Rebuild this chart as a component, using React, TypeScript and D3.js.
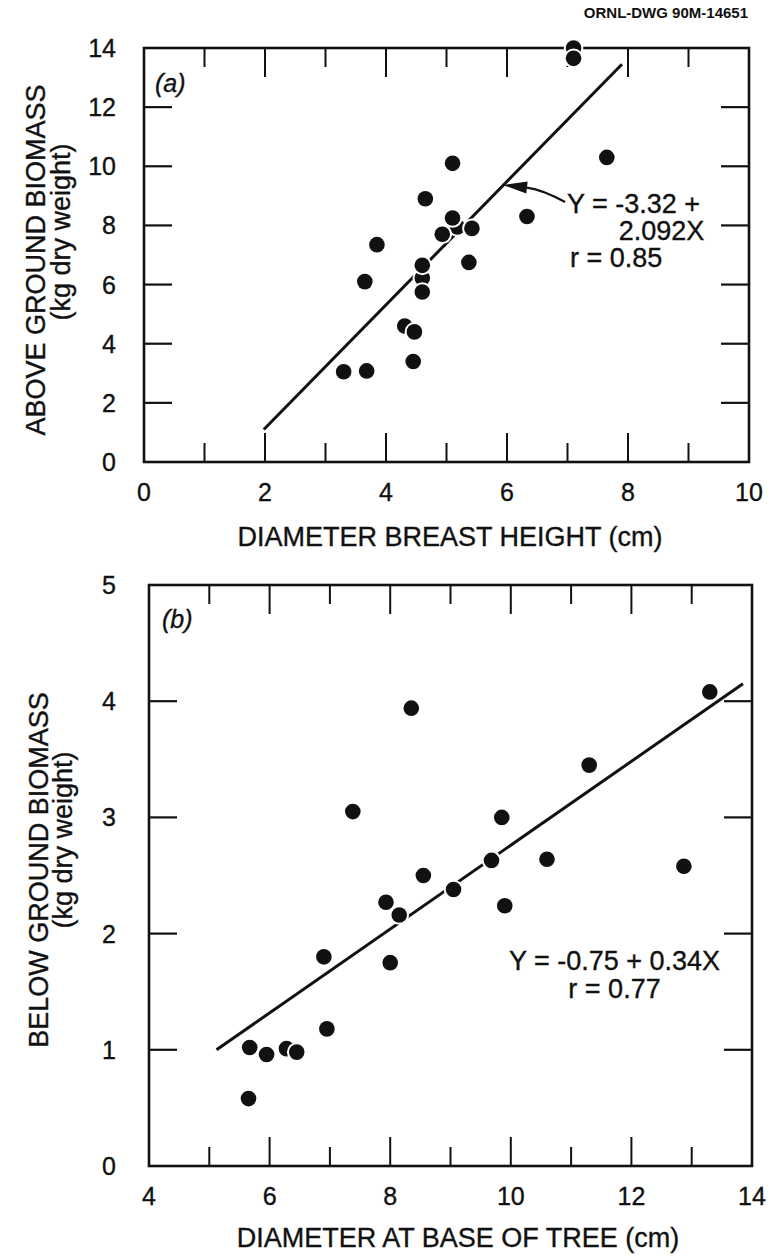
import React from "react";
import * as d3 from "d3";

// ---------- Panel (a): above-ground biomass vs DBH ----------
const aDbh = [7.1, 7.1, 7.65, 5.1, 4.65, 6.33, 5.18, 5.1, 5.42, 4.93, 3.85, 3.65, 5.37, 4.6, 4.6, 4.6, 4.31, 4.47, 4.45, 3.3, 3.68];
const aBiomass = [14.0, 13.65, 10.3, 10.1, 8.9, 8.3, 7.95, 8.25, 7.9, 7.7, 7.35, 6.1, 6.75, 6.22, 6.65, 5.75, 4.6, 4.4, 3.4, 3.05, 3.08];
const aFitX = [1.98, 7.9];
const aFitY = [1.1, 13.45];
const aXTicks = [0, 2, 4, 6, 8, 10];
const aYTicks = [0, 2, 4, 6, 8, 10, 12, 14];

// ---------- Panel (b): below-ground biomass vs base diameter ----------
const bBase = [5.65, 5.67, 5.95, 6.28, 6.45, 6.9, 6.95, 7.38, 7.93, 8.0, 8.15, 8.35, 8.55, 9.05, 9.68, 9.85, 9.9, 10.6, 11.3, 12.87, 13.3];
const bBiomass = [0.58, 1.02, 0.96, 1.01, 0.98, 1.8, 1.18, 3.05, 2.27, 1.75, 2.16, 3.94, 2.5, 2.38, 2.63, 3.0, 2.24, 2.64, 3.45, 2.58, 4.08];
const bFitX = [5.12, 13.85];
const bFitY = [1.0, 4.15];
const bXTicks = [4, 6, 8, 10, 12, 14];
const bYTicks = [0, 1, 2, 3, 4, 5];

const FONT = "'Liberation Sans', Arial, Helvetica, sans-serif";
const INK = "#111";
const TXT = { fill: INK, stroke: INK, strokeWidth: 0.35 } as const;

type Scale = d3.ScaleLinear<number, number>;

function Frame({ x, y, majorX, minorX, yTickVals }: { x: Scale; y: Scale; majorX: number[]; minorX: number[]; yTickVals: number[] }) {
  const [x0, x1] = x.range();
  const [y0, y1] = y.range();
  const out: React.ReactNode[] = [];
  const xt = [...majorX.map((v) => ({ v, len: 29 })), ...minorX.map((v) => ({ v, len: 19 }))];
  xt.forEach(({ v, len }, i) => {
    const px = x(v);
    out.push(<line key={"xb" + i} x1={px} x2={px} y1={y0} y2={y0 - len} stroke={INK} strokeWidth={2} />);
    out.push(<line key={"xt" + i} x1={px} x2={px} y1={y1} y2={y1 + len} stroke={INK} strokeWidth={2} />);
  });
  yTickVals.forEach((v, i) => {
    const py = y(v);
    out.push(<line key={"yl" + i} x1={x0} x2={x0 + 28} y1={py} y2={py} stroke={INK} strokeWidth={2.2} />);
    out.push(<line key={"yr" + i} x1={x1 - 28} x2={x1} y1={py} y2={py} stroke={INK} strokeWidth={2.2} />);
  });
  return (
    <g>
      <rect x={x0} y={y1} width={x1 - x0} height={y0 - y1} fill="none" stroke={INK} strokeWidth={2.6} />
      {out}
    </g>
  );
}

function Dots({ x, y, xs, ys }: { x: Scale; y: Scale; xs: number[]; ys: number[] }) {
  return (
    <g>
      {xs.map((v, i) => (
        <g key={i}>
          <circle cx={x(v)} cy={y(ys[i])} r={9.8} fill="#fff" />
          <circle cx={x(v)} cy={y(ys[i])} r={7.8} fill={INK} />
        </g>
      ))}
    </g>
  );
}

export default function App() {
  const ax = d3.scaleLinear().domain([0, 10]).range([144, 749]);
  const ay = d3.scaleLinear().domain([0, 14]).range([462, 48]);
  const bx = d3.scaleLinear().domain([4, 14]).range([149, 752]);
  const by = d3.scaleLinear().domain([0, 5]).range([1166, 585]);

  const lineGen = (x: Scale, y: Scale, xs: number[], ys: number[]) =>
    d3.line<number>().x((d) => x(d)).y((_, i) => y(ys[i]))(xs) || "";

  // arrow annotation in panel (a), defined in data units
  const tip = [ax(5.93), ay(9.37)];
  const base = [ax(6.33), ay(9.28)];
  const tail = [ax(6.96), ay(8.79)];
  const ctrl = [ax(6.6), ay(9.2)];
  const dx = tip[0] - base[0];
  const dy = tip[1] - base[1];
  const L = Math.hypot(dx, dy);
  const nx = -dy / L;
  const ny = dx / L;
  const hw = 6;
  const head = `M${tip[0]},${tip[1]} L${base[0] + nx * hw},${base[1] + ny * hw} L${base[0] - nx * hw},${base[1] - ny * hw} Z`;

  const minorA = d3.range(1, 10, 2);
  const majorA = aXTicks.filter((v) => v > 0 && v < 10);
  const minorB = d3.range(5, 14, 2);
  const majorB = bXTicks.filter((v) => v > 4 && v < 14);

  return (
    <div style={{ position: "absolute", left: 0, top: 0 }}>
      <svg width={781} height={1256} style={{ display: "block", background: "#fff" }} fontFamily={FONT}>
        <text x={748} y={18} textAnchor="end" fontSize={15} fontWeight="bold" fill={INK}>ORNL-DWG 90M-14651</text>

        {/* Panel (a) */}
        <Frame x={ax} y={ay} majorX={majorA} minorX={minorA} yTickVals={aYTicks.filter((v) => v > 0 && v < 14)} />
        <path d={lineGen(ax, ay, aFitX, aFitY)} stroke={INK} strokeWidth={3} fill="none" />
        <Dots x={ax} y={ay} xs={aDbh} ys={aBiomass} />
        <path d={`M${tail[0]},${tail[1]} Q${ctrl[0]},${ctrl[1]} ${base[0]},${base[1]}`} stroke={INK} strokeWidth={2.2} fill="none" />
        <path d={head} fill={INK} />
        <text x={155} y={92} fontSize={25} fontStyle="italic" {...TXT}>(a)</text>
        <text x={ax(6.99)} y={ay(8.42)} fontSize={27} {...TXT}>Y = -3.32 +</text>
        <text x={ax(9.26)} y={ay(7.51)} fontSize={27} textAnchor="end" {...TXT}>2.092X</text>
        <text x={ax(7.04)} y={ay(6.59)} fontSize={27} {...TXT}>r = 0.85</text>
        {aXTicks.map((v) => (
          <text key={v} x={ax(v)} y={501} textAnchor="middle" fontSize={25} {...TXT}>{v}</text>
        ))}
        {aYTicks.map((v) => (
          <text key={v} x={116} y={ay(v)} dy="0.36em" textAnchor="end" fontSize={25} {...TXT}>{v}</text>
        ))}
        <text x={450} y={546} textAnchor="middle" fontSize={27} {...TXT}>DIAMETER BREAST HEIGHT (cm)</text>
        <text transform="translate(45,260) rotate(-90)" textAnchor="middle" fontSize={27} {...TXT}>ABOVE GROUND BIOMASS</text>
        <text transform="translate(70,232) rotate(-90)" textAnchor="middle" fontSize={27} {...TXT}>(kg dry weight)</text>

        {/* Panel (b) */}
        <Frame x={bx} y={by} majorX={majorB} minorX={minorB} yTickVals={bYTicks.filter((v) => v > 0 && v < 5)} />
        <path d={lineGen(bx, by, bFitX, bFitY)} stroke={INK} strokeWidth={3} fill="none" />
        <Dots x={bx} y={by} xs={bBase} ys={bBiomass} />
        <text x={162} y={628} fontSize={25} fontStyle="italic" {...TXT}>(b)</text>
        <text x={bx(11.72)} y={by(1.69)} textAnchor="middle" fontSize={27} {...TXT}>Y = -0.75 + 0.34X</text>
        <text x={bx(11.72)} y={by(1.45)} textAnchor="middle" fontSize={27} {...TXT}>r = 0.77</text>
        {bXTicks.map((v) => (
          <text key={v} x={bx(v)} y={1205} textAnchor="middle" fontSize={25} {...TXT}>{v}</text>
        ))}
        {bYTicks.map((v) => (
          <text key={v} x={116} y={by(v)} dy="0.36em" textAnchor="end" fontSize={25} {...TXT}>{v}</text>
        ))}
        <text x={458} y={1247} textAnchor="middle" fontSize={27} {...TXT}>DIAMETER AT BASE OF TREE (cm)</text>
        <text transform="translate(48,870) rotate(-90)" textAnchor="middle" fontSize={27} {...TXT}>BELOW GROUND BIOMASS</text>
        <text transform="translate(72,840) rotate(-90)" textAnchor="middle" fontSize={27} {...TXT}>(kg dry weight)</text>
      </svg>
    </div>
  );
}
